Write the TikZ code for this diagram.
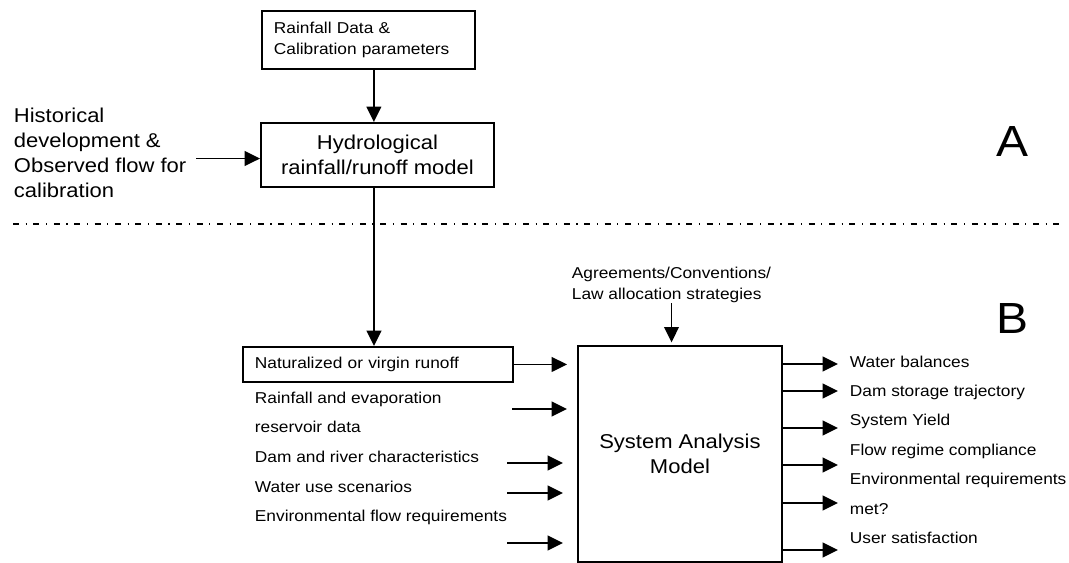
\documentclass[tikz,border=0pt]{standalone}
\usepackage{fontspec}
\setmainfont{Liberation Sans}[FakeStretch=1.1]
\usetikzlibrary{positioning,arrows.meta}

\begin{document}
\begin{tikzpicture}[x=0.75pt,y=-0.75pt,
    line width=1.4pt,
    >={Triangle[length=11.5pt,width=11pt]},
    box/.style={draw, inner xsep=9pt},
    small/.style={font=\fontsize{11.8}{15.2}\selectfont},
    large/.style={font=\fontsize{15}{18.75}\selectfont},
    item/.style={small, inner sep=0pt, anchor=base west},
    nextin/.style={below=22.3pt of #1, anchor=base west},
    nextout/.style={below=22.1pt of #1, anchor=base west},
    region/.style={inner sep=0pt, anchor=base west, font=\fontsize{32.7}{36}\selectfont},
    separator/.style={line width=1pt, dash pattern=on 4.5pt off 5pt on 0.8pt off 5pt}]
  \useasboundingbox (0,0) rectangle (1069,562);

  \node[box, small, anchor=north west, text width=141.75pt, minimum height=43.5pt, align=left] (rain) at (261,10) {Rainfall Data \&\\Calibration parameters};
  \node[box, large, anchor=north west, minimum width=174.75pt, minimum height=48pt, align=center] (hydro) at (260,122) {Hydrological\\rainfall/runoff model};
  \node[large, inner sep=0pt, anchor=north west, align=left] (hist) at (13,107.4) {Historical\\development \&\\Observed flow for\\calibration};
  \node[region] (regA) at (996,156) {A};

  \coordinate (sepL) at (13,224);
  \coordinate (sepR) at (1066,224);
  \draw[separator] (sepL) -- (sepR);

  \node[box, small, anchor=north west, text width=184.5pt, minimum height=26.25pt, align=left] (nat) at (242,346) {Naturalized or virgin runoff};
  \node[item] (evap) at (254,403) {Rainfall and evaporation};
  \node[item, nextin=evap.base west] (resv) {reservoir data};
  \node[item, nextin=resv.base west] (dam) {Dam and river characteristics};
  \node[item, nextin=dam.base west] (use) {Water use scenarios};
  \node[item, nextin=use.base west] (envin) {Environmental flow requirements};

  \node[box, large, anchor=north west, minimum width=153pt, minimum height=162pt, align=center] (sam) at (577,345) {System Analysis\\Model};
  \node[small, inner sep=0pt, anchor=north west, align=left] (agree) at (571,266.5) {Agreements/Conventions/\\Law allocation strategies};
  \node[region] (regB) at (996,333) {B};

  \node[item] (bal) at (849,367) {Water balances};
  \node[item, nextout=bal.base west] (traj) {Dam storage trajectory};
  \node[item, nextout=traj.base west] (yield) {System Yield};
  \node[item, nextout=yield.base west] (regime) {Flow regime compliance};
  \node[item, nextout=regime.base west] (envout) {Environmental requirements};
  \node[item, nextout=envout.base west] (met) {met?};
  \node[item, nextout=met.base west] (sat) {User satisfaction};

  \coordinate (evapin) at (512,409);
  \coordinate (damin) at (507,463);
  \coordinate (usein) at (507,493);
  \coordinate (envflow) at (507,543);
  \coordinate (out1) at (838,364);
  \coordinate (out2) at (838,391);
  \coordinate (out3) at (838,428);
  \coordinate (out4) at (838,465);
  \coordinate (out5) at (838,503);
  \coordinate (out6) at (838,550);

  \draw[->] ([xshift=4.1pt]rain.south) -- ([xshift=4.1pt]rain.south |- hydro.north);
  \draw[->] ([shift={(6.75pt,-2.7pt)}]hist.east |- hydro.west) -- ([yshift=-2.7pt]hydro.west);
  \draw[->] ([xshift=-2.6pt]hydro.south) -- ([xshift=-2.6pt]hydro.south |- nat.north);
  \draw[->, shorten >=2pt] (agree.south) -- (agree.south |- sam.north);

  \draw[->, shorten >=7.5pt] (nat.east) -- (nat.east -| sam.west);
  \draw[->, shorten >=7.5pt] (evapin) -- (evapin -| sam.west);
  \draw[->, shorten >=10.5pt] (damin) -- (damin -| sam.west);
  \draw[->, shorten >=10.5pt] (usein) -- (usein -| sam.west);
  \draw[->, shorten >=10.5pt] (envflow) -- (envflow -| sam.west);

  \draw[->] (out1 -| sam.east) -- (out1);
  \draw[->] (out2 -| sam.east) -- (out2);
  \draw[->] (out3 -| sam.east) -- (out3);
  \draw[->] (out4 -| sam.east) -- (out4);
  \draw[->] (out5 -| sam.east) -- (out5);
  \draw[->] (out6 -| sam.east) -- (out6);
\end{tikzpicture}
\end{document}
